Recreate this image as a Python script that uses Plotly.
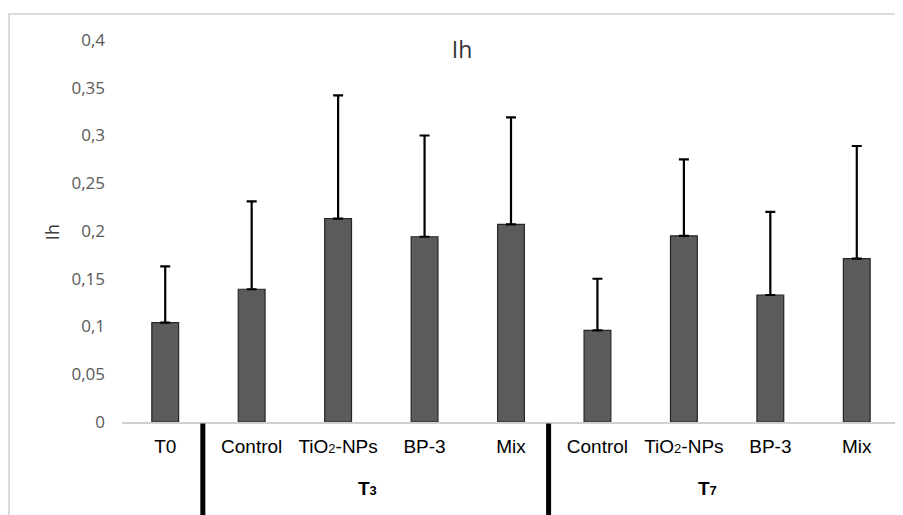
import plotly.graph_objects as go

SMALL = '<span style="font-size:13px">{}</span>'

categories = ["T0", "Control", "TiO" + SMALL.format("2") + "-NPs", "BP-3", "Mix",
              "Control", "TiO" + SMALL.format("2") + "-NPs", "BP-3", "Mix"]
means = [0.104, 0.139, 0.213, 0.194, 0.207, 0.096, 0.195, 0.133, 0.171]
errors = [0.059, 0.092, 0.129, 0.106, 0.112, 0.054, 0.080, 0.087, 0.118]
group_labels = ["T" + SMALL.format("3"), "T" + SMALL.format("7")]
group_pos = [2.34, 6.27]
separator_pos = [0.435, 4.435]
y_ticks = [0, 0.05, 0.1, 0.15, 0.2, 0.25, 0.3, 0.35, 0.4]
y_ticktext = ["0", "0,05", "0,1", "0,15", "0,2", "0,25", "0,3", "0,35", "0,4"]

xpos = list(range(len(categories)))

fig = go.Figure()
fig.add_trace(go.Bar(
    x=xpos, y=means, width=0.31,
    marker=dict(color="#5b5b5b", line=dict(color="#262626", width=1.2)),
    error_y=dict(type="data", array=errors, arrayminus=[0] * len(errors),
                 symmetric=False, color="black", thickness=2.2, width=5),
    showlegend=False,
))

shapes = [
    dict(type="rect", xref="paper", yref="paper",
         x0=-0.1452, x1=1.0077, y0=-0.2565, y1=1.068,
         line=dict(color="#d0d0d0", width=1.5), fillcolor="rgba(0,0,0,0)",
         layer="below"),
]
for sp in separator_pos:
    shapes.append(dict(type="line", xref="x", yref="paper", x0=sp, x1=sp,
                       y0=-0.004, y1=-0.27, line=dict(color="black", width=5)))

annotations = [
    dict(text="Ih", xref="paper", yref="paper", x=-0.09, y=0.497,
         xanchor="center", yanchor="middle",
         textangle=-90, showarrow=False,
         font=dict(family="Open Sans", size=18, color="#404040")),
]
for g, p in zip(group_labels, group_pos):
    annotations.append(dict(text="<b>" + g + "</b>", xref="x", yref="paper",
                            x=p, y=-0.175, xanchor="center", yanchor="middle",
                            showarrow=False,
                            font=dict(family="Liberation Sans", size=19, color="black")))

fig.update_layout(
    width=895, height=507,
    margin=dict(l=114, r=3, t=32, b=93),
    paper_bgcolor="white", plot_bgcolor="white",
    separators=", ",
    title=dict(text="Ih", x=0.5073, xanchor="center", y=0.917, yanchor="middle",
               font=dict(family="Open Sans", size=23, color="#333333")),
    xaxis=dict(range=[-0.5, 8.5], tickvals=xpos, ticktext=categories,
               showgrid=False, zeroline=False, showline=True,
               linecolor="#d0d0d0", linewidth=1.5, ticks="",
               ticklabelstandoff=6,
               tickfont=dict(family="Liberation Sans", size=19, color="black")),
    yaxis=dict(range=[0, 0.4], tickvals=y_ticks, ticktext=y_ticktext,
               showgrid=False, zeroline=False, showline=False, ticks="",
               ticklabelstandoff=16,
               tickfont=dict(family="Open Sans", size=17, color="#595959")),
    shapes=shapes,
    annotations=annotations,
    bargap=0.69,
)

fig.write_html("out.html")
